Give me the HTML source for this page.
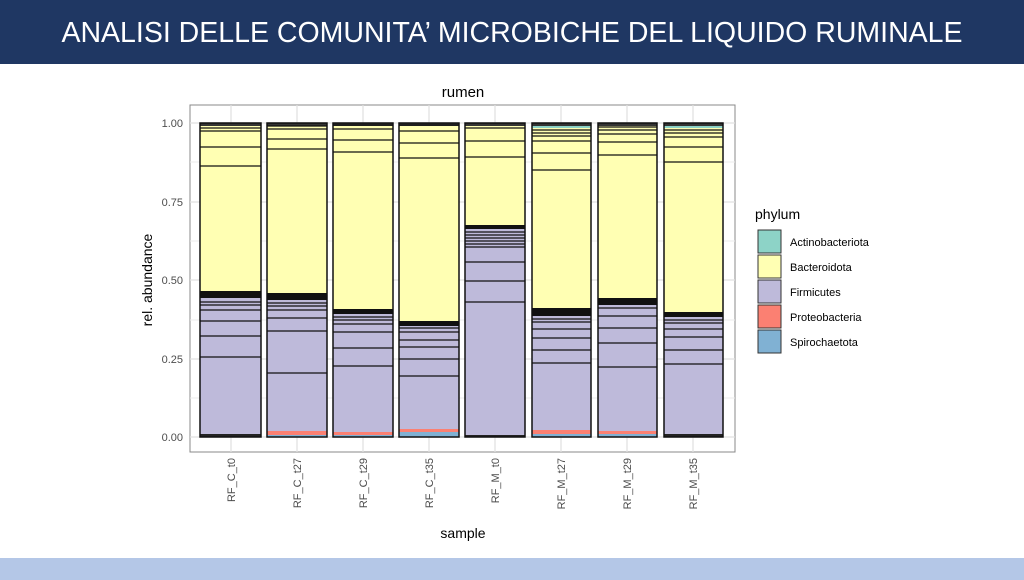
<!DOCTYPE html>
<html><head><meta charset="utf-8"><style>
body{margin:0;width:1024px;height:580px;background:#fff;overflow:hidden;font-family:"Liberation Sans",sans-serif}
.hdr{position:absolute;left:0;top:0;width:1024px;height:64px;background:#1f3763;color:#fff;font-size:28.5px;text-align:center;line-height:66px}
.ftr{position:absolute;left:0;top:558px;width:1024px;height:22px;background:#b4c7e7}
svg{position:absolute;left:0;top:0}
</style></head><body>
<div class="hdr">ANALISI DELLE COMUNITA’ MICROBICHE DEL LIQUIDO RUMINALE</div>
<div class="ftr"></div>
<svg width="1024" height="580" font-family="Liberation Sans, sans-serif">
<rect x="190" y="105" width="545" height="347" fill="#fff" stroke="#888" stroke-width="1"/>
<g stroke="#ebebeb" stroke-width="1">
<line x1="190" x2="735" y1="162" y2="162"/><line x1="190" x2="735" y1="241" y2="241"/><line x1="190" x2="735" y1="320" y2="320"/><line x1="190" x2="735" y1="398" y2="398"/>
</g>
<g stroke="#e0e0e0" stroke-width="1.2">
<line x1="190" x2="735" y1="123" y2="123"/><line x1="190" x2="735" y1="202" y2="202"/><line x1="190" x2="735" y1="280" y2="280"/><line x1="190" x2="735" y1="359" y2="359"/><line x1="190" x2="735" y1="437" y2="437"/>
<line x1="231" x2="231" y1="105" y2="452"/><line x1="297" x2="297" y1="105" y2="452"/><line x1="363" x2="363" y1="105" y2="452"/><line x1="429" x2="429" y1="105" y2="452"/><line x1="495" x2="495" y1="105" y2="452"/><line x1="561" x2="561" y1="105" y2="452"/><line x1="627" x2="627" y1="105" y2="452"/><line x1="693" x2="693" y1="105" y2="452"/>
</g>
<g id="bars"></g>
<g font-size="11" fill="#4d4d4d" text-anchor="end">
<text x="183" y="127">1.00</text><text x="183" y="206">0.75</text><text x="183" y="284">0.50</text><text x="183" y="363">0.25</text><text x="183" y="441">0.00</text>
</g>
<g font-size="11" fill="#4d4d4d" text-anchor="end">
<text transform="translate(235,458) rotate(-90)">RF_C_t0</text>
<text transform="translate(301,458) rotate(-90)">RF_C_t27</text>
<text transform="translate(367,458) rotate(-90)">RF_C_t29</text>
<text transform="translate(433,458) rotate(-90)">RF_C_t35</text>
<text transform="translate(499,458) rotate(-90)">RF_M_t0</text>
<text transform="translate(565,458) rotate(-90)">RF_M_t27</text>
<text transform="translate(631,458) rotate(-90)">RF_M_t29</text>
<text transform="translate(697,458) rotate(-90)">RF_M_t35</text>
</g>
<text x="463" y="97" font-size="15" text-anchor="middle">rumen</text>
<text x="463" y="538" font-size="14" text-anchor="middle">sample</text>
<text transform="translate(152,280) rotate(-90)" font-size="14" text-anchor="middle">rel. abundance</text>
<text x="755" y="219" font-size="14">phylum</text>
<g stroke="#333" stroke-width="1">
<rect x="758" y="230" width="23" height="23" fill="#8dd3c7"/>
<rect x="758" y="255" width="23" height="23" fill="#ffffb3"/>
<rect x="758" y="280" width="23" height="23" fill="#bebada"/>
<rect x="758" y="305" width="23" height="23" fill="#fb8072"/>
<rect x="758" y="330" width="23" height="23" fill="#80b1d3"/>
</g>
<g font-size="11">
<text x="790" y="246">Actinobacteriota</text><text x="790" y="271">Bacteroidota</text><text x="790" y="296">Firmicutes</text><text x="790" y="321">Proteobacteria</text><text x="790" y="346">Spirochaetota</text>
</g>
</svg>
<script>
var bars=[
{x:200,w:61,teal:0,yb:291,bl:298,yl:[128,131,147,166],pl:[302,305,310,321,336,357],bot:[[434,437,"#222"]]},
{x:267,w:60,teal:0,yb:293,bl:300,yl:[126,129,139,149],pl:[303,306,310,318,331,373],bot:[[431,435,"#fb8072"],[435,437,"#80b1d3"]]},
{x:333,w:60,teal:0,yb:309,bl:314,yl:[125,129,140,152],pl:[317,320,324,332,348,366],bot:[[432,435,"#fb8072"],[435,437,"#80b1d3"]]},
{x:399,w:60,teal:0,yb:321,bl:326,yl:[125,131,143,158],pl:[328,332,340,347,359,376],bot:[[429,432,"#fb8072"],[432,437,"#80b1d3"]]},
{x:465,w:60,teal:0,yb:225,bl:229,yl:[128,141,157],pl:[232,235,238,241,244,247,262,281,302],bot:[[435,437,"#222"]]},
{x:532,w:59,teal:128,yb:308,bl:316,yl:[130,133,136,141,153,170],pl:[319,322,329,338,350,363],bot:[[430,434,"#fb8072"],[434,437,"#80b1d3"]]},
{x:598,w:59,teal:125,yb:298,bl:305,yl:[127,130,134,142,155],pl:[308,316,328,343,367],bot:[[431,434,"#fb8072"],[434,437,"#80b1d3"]]},
{x:664,w:59,teal:128,yb:312,bl:317,yl:[130,133,137,147,162],pl:[320,323,329,337,350,364],bot:[[434,437,"#222"]]}];
var s="";
bars.forEach(function(b){
var t=b.teal||123;
if(b.teal)s+='<rect x="'+b.x+'" y="123" width="'+b.w+'" height="'+(b.teal-123)+'" fill="#8dd3c7"/>';
s+='<rect x="'+b.x+'" y="'+t+'" width="'+b.w+'" height="'+(b.yb-t)+'" fill="#ffffb3"/>';
s+='<rect x="'+b.x+'" y="'+b.yb+'" width="'+b.w+'" height="'+(b.bl-b.yb)+'" fill="#111"/>';
s+='<rect x="'+b.x+'" y="'+b.bl+'" width="'+b.w+'" height="'+(437-b.bl)+'" fill="#bebada"/>';
b.bot.forEach(function(r){s+='<rect x="'+b.x+'" y="'+r[0]+'" width="'+b.w+'" height="'+(r[1]-r[0])+'" fill="'+r[2]+'"/>';});
s+='<rect x="'+b.x+'" y="123" width="'+b.w+'" height="3" fill="#333"/>';
b.yl.concat(b.pl).forEach(function(y){s+='<line x1="'+b.x+'" x2="'+(b.x+b.w)+'" y1="'+y+'" y2="'+y+'" stroke="#111" stroke-width="1.2"/>';});
s+='<rect x="'+b.x+'" y="123" width="'+b.w+'" height="314" fill="none" stroke="#111" stroke-width="1.5"/>';
});
document.getElementById("bars").innerHTML=s;
</script>
</body></html>
